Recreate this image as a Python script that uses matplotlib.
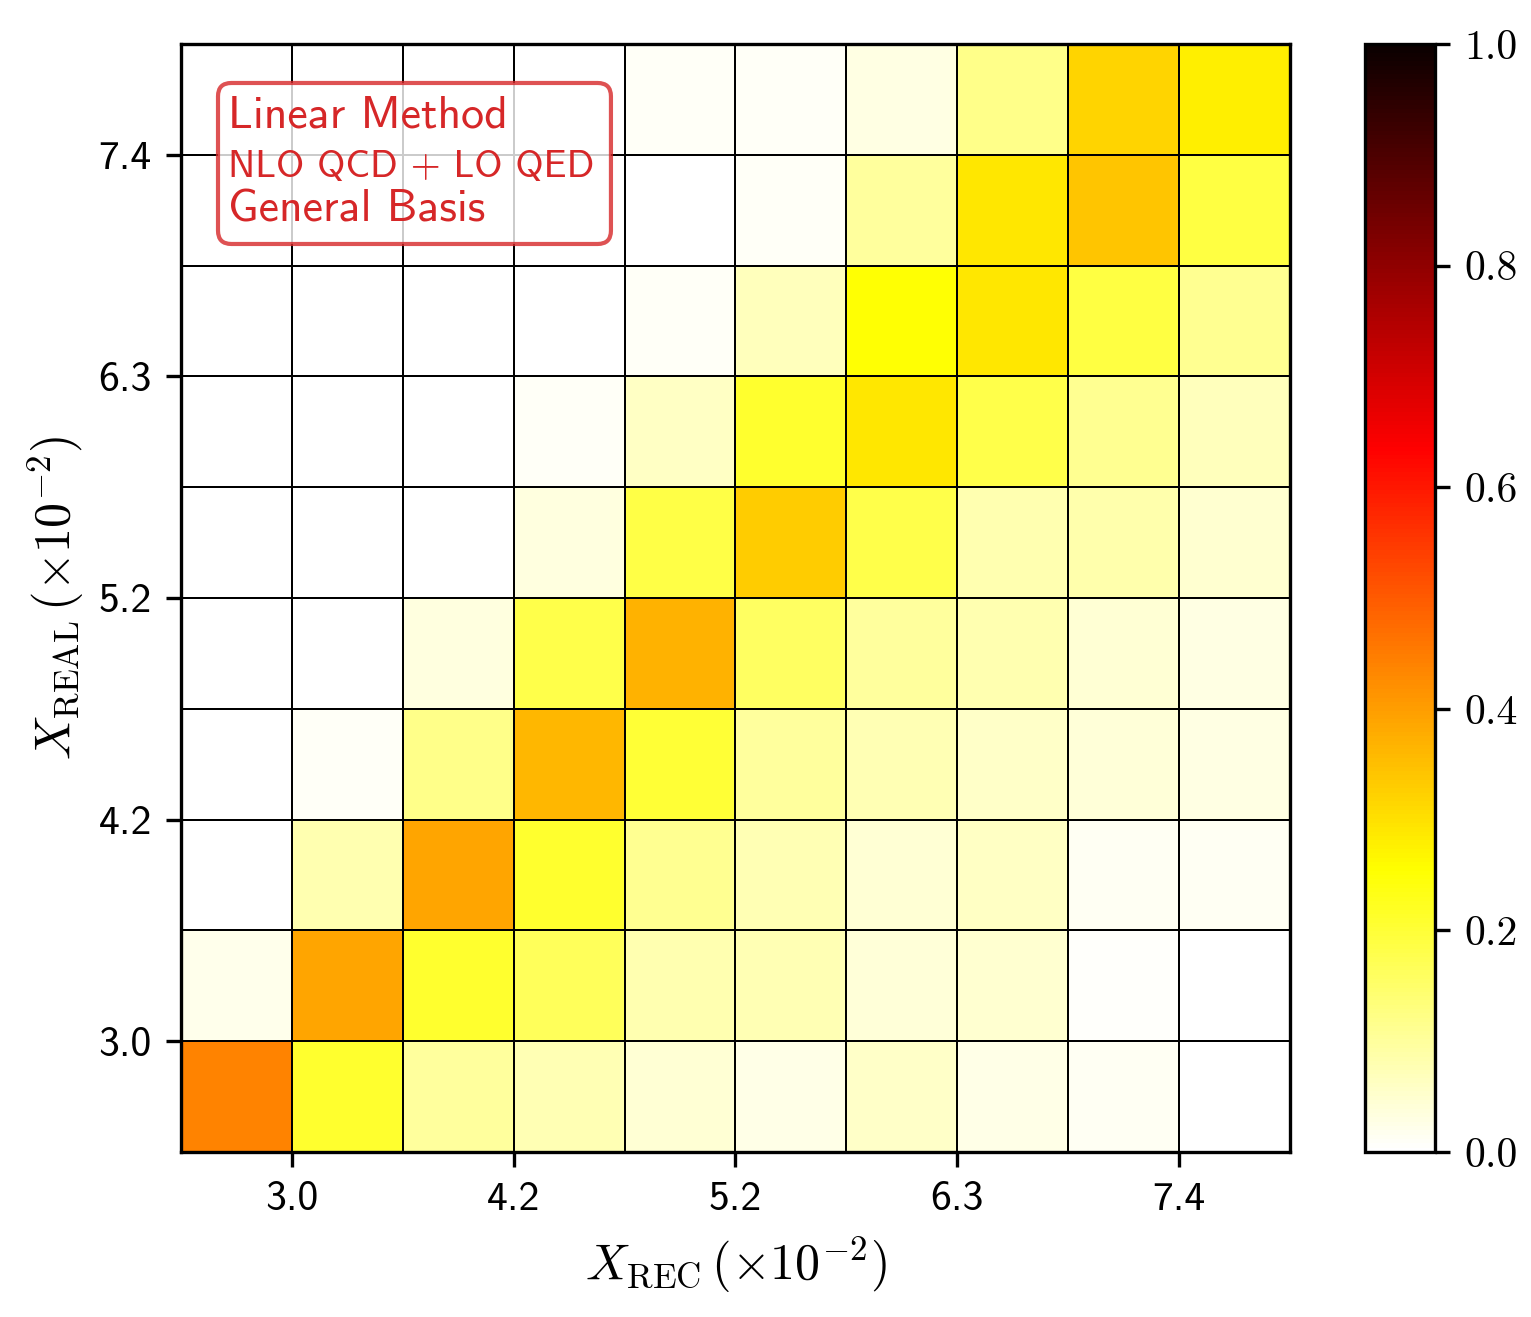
import numpy as np
import matplotlib
matplotlib.use("Agg")
import matplotlib.pyplot as plt
from matplotlib.patches import FancyBboxPatch

plt.rcParams['mathtext.fontset'] = 'cm'

# migration matrix, rows = X_REAL bins (bottom to top), cols = X_REC bins
row0 = [0.44, 0.21, 0.10, 0.075, 0.045, 0.025, 0.055, 0.025, 0.015, 0.0]
row1 = [0.02, 0.39, 0.21, 0.165, 0.08, 0.075, 0.04, 0.05, 0.005, 0.0]
row2 = [0.0, 0.08, 0.39, 0.21, 0.11, 0.075, 0.045, 0.06, 0.015, 0.015]
row3 = [0.0, 0.01, 0.12, 0.36, 0.20, 0.10, 0.075, 0.055, 0.04, 0.03]
row4 = [0.0, 0.0, 0.035, 0.18, 0.37, 0.16, 0.10, 0.08, 0.045, 0.03]
row5 = [0.0, 0.0, 0.0, 0.035, 0.185, 0.33, 0.18, 0.08, 0.085, 0.05]
row6 = [0.0, 0.0, 0.0, 0.01, 0.06, 0.21, 0.29, 0.18, 0.11, 0.07]
row7 = [0.0, 0.0, 0.0, 0.0, 0.01, 0.07, 0.25, 0.29, 0.19, 0.11]
row8 = [0.0, 0.0, 0.0, 0.0, 0.0, 0.01, 0.10, 0.29, 0.34, 0.19]
row9 = [0.0, 0.0, 0.0, 0.0, 0.01, 0.01, 0.03, 0.12, 0.32, 0.28]
matrix = np.array([row0, row1, row2, row3, row4, row5, row6, row7, row8, row9])

tick_pos = [1, 3, 5, 7, 9]
tick_labels = ['3.0', '4.2', '5.2', '6.3', '7.4']
cbar_ticks = [0.0, 0.2, 0.4, 0.6, 0.8, 1.0]

fig = plt.figure(figsize=(1531 / 300, 1317 / 300), dpi=300)
ax = fig.add_axes([0.1182, 0.1253, 0.7244, 0.8413])
cax = fig.add_axes([0.8916, 0.1253, 0.0457, 0.8413])

edges = np.arange(matrix.shape[0] + 1)
mesh = ax.pcolormesh(edges, edges, matrix, cmap='hot_r', vmin=0, vmax=1,
                     edgecolors='k', linewidth=0.4)
ax.set_xlim(0, 10)
ax.set_ylim(0, 10)

ax.set_xticks(tick_pos)
ax.set_xticklabels(tick_labels, family='cmss10', fontsize=10)
ax.set_yticks(tick_pos)
ax.set_yticklabels(tick_labels, family='cmss10', fontsize=10)
ax.tick_params(width=0.8, length=3.5)
for s in ax.spines.values():
    s.set_linewidth(0.8)

ax.set_xlabel(r'$X_{\rm REC}\,(\times 10^{-2})$', fontsize=12, labelpad=4)
ax.set_ylabel(r'$X_{\rm REAL}\,(\times 10^{-2})$', fontsize=12, labelpad=3)

cb = fig.colorbar(mesh, cax=cax, ticks=cbar_ticks)
cb.ax.set_yticklabels(['%.1f' % t for t in cbar_ticks], family='cmr10', fontsize=10)
cb.ax.tick_params(width=0.8, length=3.5)
cb.outline.set_linewidth(0.8)

# label box
box = FancyBboxPatch((0.0334, 0.8195), 0.3543, 0.1453, transform=ax.transAxes,
                     boxstyle='round,pad=0,rounding_size=0.012',
                     facecolor='white', edgecolor='#d62728', alpha=0.8,
                     linewidth=1.0, zorder=3)
ax.add_patch(box)
ax.text(0.042, 0.925, 'Linear Method', transform=ax.transAxes, color='#d62728',
        family='cmss10', fontsize=11, va='baseline', zorder=4)
ax.text(0.042, 0.880, 'NLO QCD + LO QED', transform=ax.transAxes, color='#d62728',
        family='cmss10', fontsize=9.25, va='baseline', zorder=4)
ax.text(0.042, 0.840, 'General Basis', transform=ax.transAxes, color='#d62728',
        family='cmss10', fontsize=11, va='baseline', zorder=4)

fig.savefig('out.png', dpi=300)
